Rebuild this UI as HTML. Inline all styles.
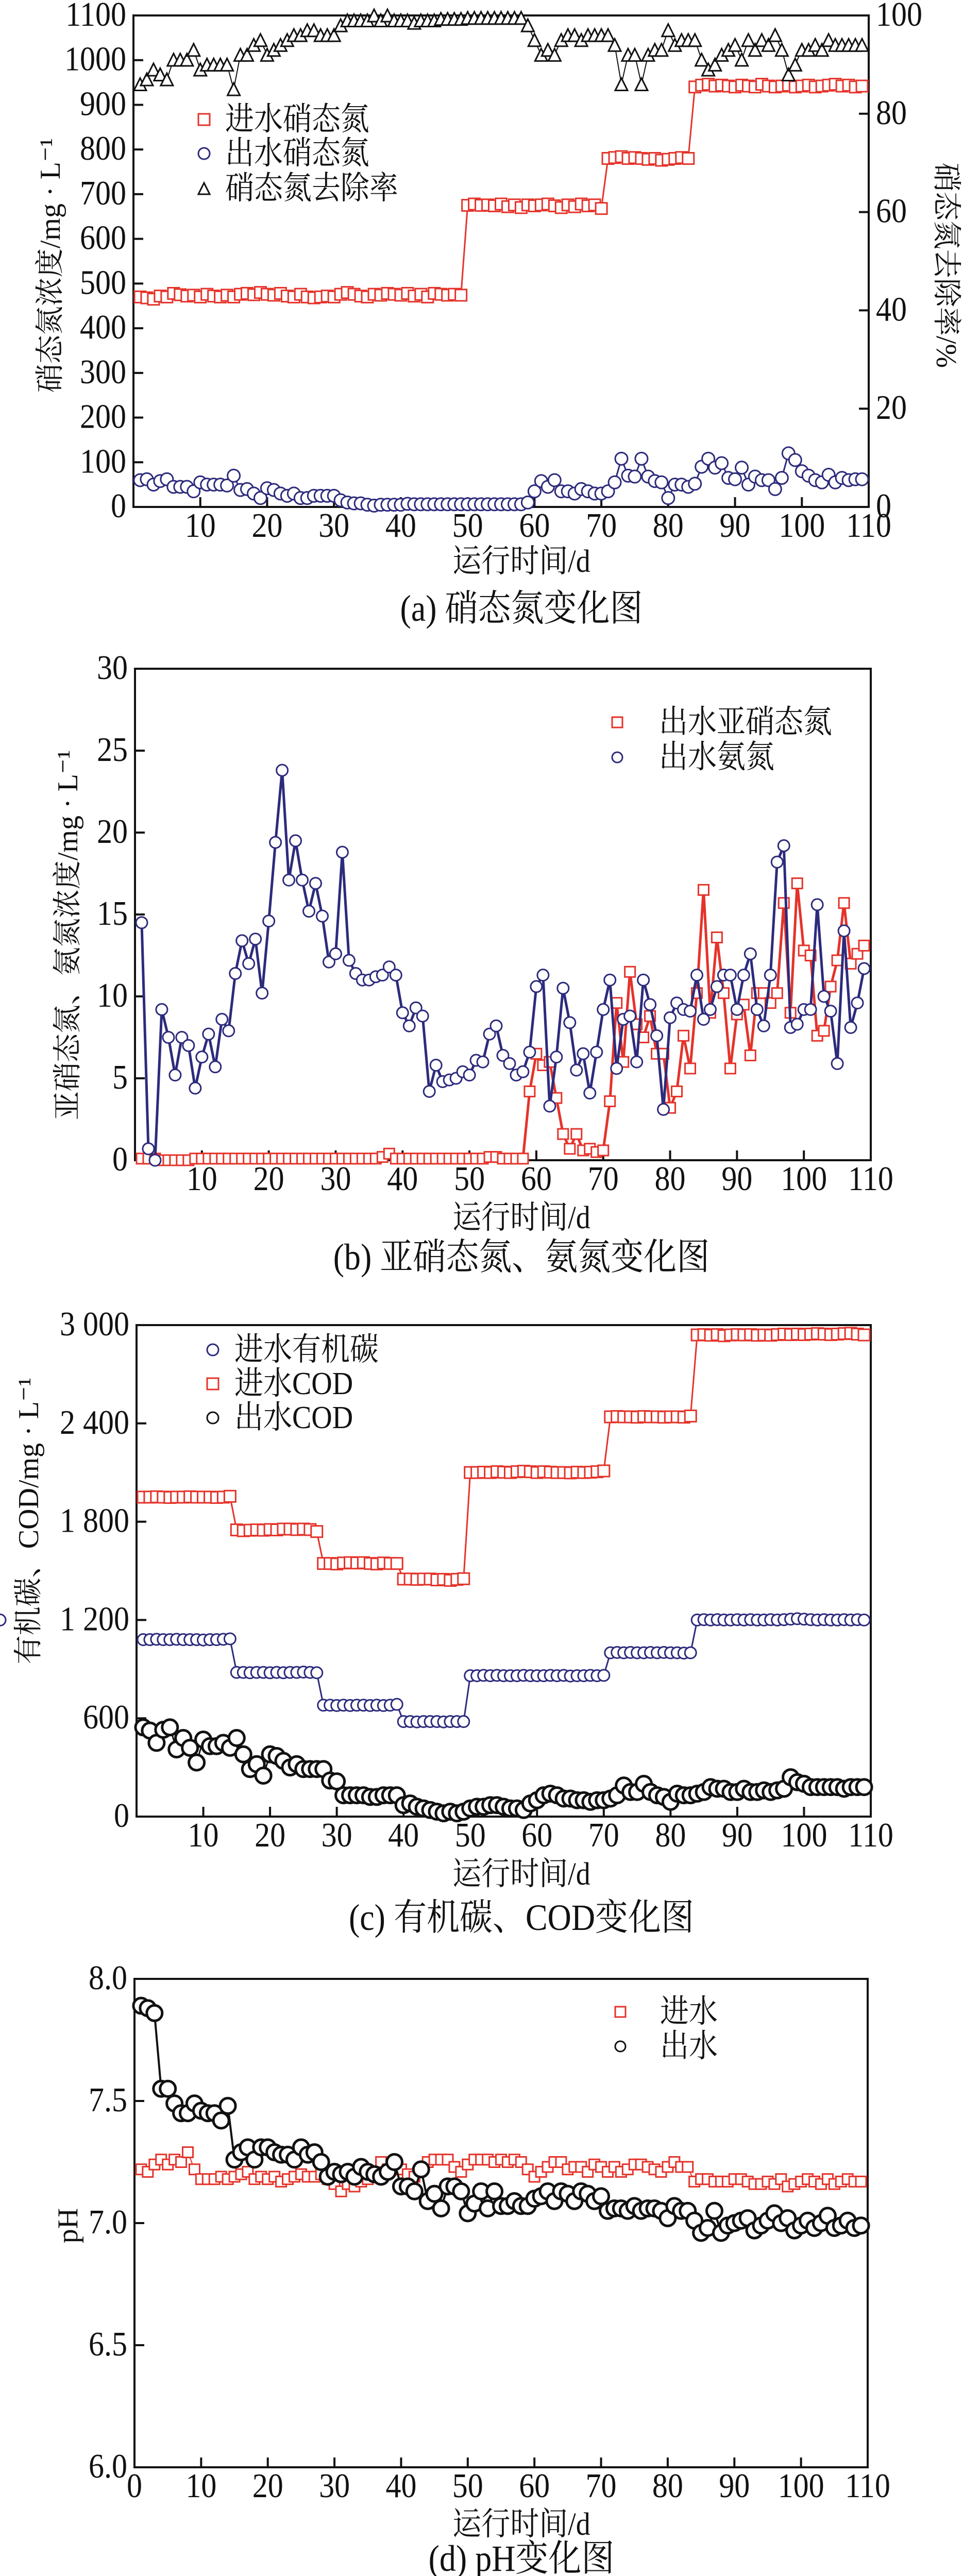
<!DOCTYPE html>
<html><head><meta charset="utf-8">
<style>
html,body{margin:0;padding:0;background:#fff;overflow:hidden;width:1869px;height:5021px;}
svg{display:block;}
.tk{font-family:"Liberation Serif","Noto Serif CJK SC",serif;font-size:60px;fill:#111;}
.cj{font-family:"Liberation Serif","Noto Serif CJK SC",serif;font-size:56px;fill:#111;}
.cap{font-family:"Liberation Serif","Noto Serif CJK SC",serif;font-size:64px;fill:#111;}
</style></head>
<body>
<svg id="chart" xmlns="http://www.w3.org/2000/svg" width="1869" height="5021" viewBox="0 0 1869 5021">
<rect width="1869" height="5021" fill="#fff"/>
</svg>
<script>
const NS="http://www.w3.org/2000/svg";
const svg=document.getElementById('chart');
const RED="#e5332a", BLUE="#2d2b7c", BLK="#111";

// ---- data (day index = position + 1) ----
const days=[];for(let i=1;i<=109;i++)days.push(i);
const xTicks=[0,10,20,30,40,50,60,70,80,90,100,110];

// panel a
const aInNitrate=[470,468,465,472,470,478,475,472,474,470,476,472,470,474,470,476,478,475,480,476,474,478,472,470,476,470,468,470,472,470,476,480,476,472,470,476,474,478,476,474,478,472,476,470,478,476,474,476,474,675,678,675,676,674,678,672,676,670,676,674,676,678,674,670,676,672,678,674,676,668,780,782,784,780,782,780,778,780,776,778,780,782,780,940,944,946,942,944,942,940,944,942,940,946,942,940,942,944,940,942,944,940,942,944,946,942,944,940,942];
const aOutNitrate=[60,62,50,58,62,45,45,45,35,55,50,50,50,48,70,38,40,30,20,42,38,30,25,30,20,20,25,25,25,25,15,10,8,8,5,3,5,5,5,5,7,6,6,6,6,6,6,6,6,6,6,6,6,6,6,6,6,6,10,35,58,45,60,35,35,30,40,35,30,30,35,55,108,70,68,108,68,58,55,20,50,50,45,52,90,108,88,98,65,62,88,50,68,60,60,40,65,120,105,80,70,60,55,72,55,65,60,62,62];
const aRemoval=[86,87,89,88,87,91,91,91,93,89,90,90,90,90,85,92,92,94,95,92,93,94,95,96,96,97,97,96,96,96,98,99,99,99,99,100,99,100,99,99,99,98.5,99,99,99,99.3,99.3,99.3,99.3,99.5,99.5,99.5,99.5,99.5,99.5,99.5,99.5,99.5,98,95,92,93,92,95,96,96,95,96,96,96,96,94,86,92,92,86,92,93,93,97,94,95,95,95,91,89,90,92,93,94,91,95,93,95,94,96,93,88,90,93,93,94,93,95,94,94,94,94,94];
const aYTicks=[0,100,200,300,400,500,600,700,800,900,1000,1100];
const aRTicks=[0,20,40,60,80,100];

// panel b
const bAmmonia=[14.5,0.7,0,9.2,7.5,5.2,7.5,7.0,4.4,6.3,7.7,5.7,8.6,7.9,11.4,13.4,12.0,13.5,10.2,14.6,19.4,23.8,17.1,19.5,17.1,15.2,16.9,14.9,12.1,12.6,18.8,12.2,11.4,11.0,11.0,11.2,11.3,11.8,11.3,9.0,8.2,9.3,8.8,4.2,5.8,4.8,4.9,5.0,5.4,5.2,6.1,6.0,7.7,8.2,6.4,5.9,5.2,5.4,6.6,10.6,11.3,3.3,6.3,10.5,8.4,5.5,6.5,4.1,6.6,9.2,11.0,5.6,8.6,8.8,6.0,11.0,9.5,7.6,3.1,8.7,9.6,9.2,9.1,11.3,8.6,9.2,10.6,11.3,11.3,9.2,11.3,12.6,9.2,8.2,11.3,18.2,19.2,8.1,8.3,9.2,9.2,15.6,10.0,9.1,5.9,14.0,8.1,9.6,11.7];
const bNitrite=[0.1,0.1,0.1,0,0,0,0,0,0.1,0.1,0.1,0.1,0.1,0.1,0.1,0.1,0.1,0.1,0.1,0.1,0.1,0.1,0.1,0.1,0.1,0.1,0.1,0.1,0.1,0.1,0.1,0.1,0.1,0.1,0.1,0.1,0.2,0.4,0.1,0.1,0.1,0.1,0.1,0.1,0.1,0.1,0.1,0.1,0.1,0.1,0.1,0.1,0.2,0.2,0.1,0.1,0.1,0.1,4.2,6.5,5.8,6.0,3.8,1.6,0.7,1.6,0.6,0.7,0.5,0.6,3.6,9.6,6.0,11.5,8.3,7.5,8.8,6.5,6.5,3.2,4.2,7.6,5.6,10.2,16.5,9.0,13.6,10.2,5.6,8.9,9.5,6.4,10.2,10.2,9.6,10.2,15.7,9.0,16.9,12.8,12.5,7.6,7.9,10.6,12.2,15.7,12.0,12.6,13.1];
const bYTicks=[0,5,10,15,20,25,30];

// panel c
const cInCOD=[1950,1950,1952,1950,1948,1950,1950,1952,1950,1950,1950,1948,1950,1955,1750,1745,1748,1750,1748,1752,1750,1755,1755,1752,1755,1752,1740,1545,1545,1542,1548,1550,1548,1550,1545,1542,1548,1545,1545,1450,1450,1448,1450,1450,1445,1448,1442,1448,1452,2100,2100,2102,2100,2105,2102,2100,2105,2108,2105,2100,2105,2102,2100,2100,2098,2102,2100,2102,2105,2110,2440,2442,2440,2440,2438,2442,2440,2440,2438,2440,2440,2438,2445,2940,2942,2938,2942,2935,2940,2942,2940,2942,2938,2940,2938,2942,2945,2942,2945,2942,2945,2948,2945,2942,2945,2948,2950,2945,2940];
const cInTOC=[1080,1080,1082,1080,1080,1082,1080,1080,1080,1078,1080,1080,1082,1085,880,880,878,880,880,878,880,878,880,880,882,880,878,680,680,678,680,678,680,680,678,680,678,680,685,580,580,578,580,580,580,578,580,580,580,860,860,862,860,862,860,860,860,862,860,860,860,862,860,862,858,860,860,862,860,862,1000,1002,1000,1002,1000,1000,1002,1000,1002,1000,1000,998,1000,1200,1202,1200,1202,1200,1200,1202,1200,1202,1200,1200,1202,1200,1202,1205,1208,1205,1202,1200,1202,1200,1200,1202,1200,1202,1200,1200];
const cOutCOD=[545,525,450,530,545,410,480,420,330,470,430,430,450,420,480,380,290,320,250,380,370,340,300,320,290,290,290,290,220,215,130,130,130,130,120,120,130,130,130,70,80,60,50,40,30,20,30,20,30,50,60,60,70,70,60,50,50,40,80,100,130,140,130,110,110,100,100,90,100,100,110,130,190,150,150,200,150,130,120,90,140,130,130,140,150,180,170,170,150,150,170,150,150,160,150,160,170,240,210,200,180,180,180,180,180,170,180,180,180];
const cYTicks=[0,600,1200,1800,2400,3000];
const cYLabels=["0","600","1 200","1 800","2 400","3 000"];

// panel d
const dInPH=[7.22,7.21,7.24,7.26,7.24,7.26,7.25,7.29,7.22,7.18,7.18,7.18,7.19,7.18,7.19,7.20,7.21,7.18,7.19,7.18,7.19,7.17,7.18,7.19,7.20,7.19,7.19,7.20,7.18,7.16,7.13,7.16,7.15,7.17,7.18,7.20,7.25,7.22,7.24,7.22,7.20,7.19,7.22,7.25,7.26,7.26,7.26,7.23,7.21,7.24,7.26,7.26,7.26,7.25,7.26,7.25,7.26,7.25,7.22,7.19,7.21,7.23,7.25,7.25,7.22,7.23,7.23,7.21,7.24,7.23,7.21,7.23,7.21,7.22,7.24,7.24,7.23,7.22,7.21,7.23,7.25,7.23,7.23,7.17,7.18,7.18,7.17,7.17,7.17,7.18,7.18,7.17,7.16,7.16,7.17,7.16,7.18,7.15,7.16,7.17,7.18,7.17,7.16,7.18,7.16,7.17,7.18,7.17,7.17];
const dOutPH=[7.89,7.88,7.86,7.55,7.55,7.49,7.45,7.45,7.49,7.46,7.45,7.45,7.42,7.48,7.26,7.29,7.31,7.26,7.31,7.31,7.29,7.28,7.28,7.26,7.31,7.28,7.29,7.25,7.19,7.21,7.20,7.21,7.19,7.23,7.21,7.20,7.19,7.21,7.25,7.15,7.15,7.13,7.22,7.09,7.12,7.06,7.15,7.15,7.13,7.04,7.08,7.13,7.06,7.13,7.07,7.07,7.09,7.07,7.07,7.10,7.11,7.13,7.09,7.13,7.12,7.09,7.13,7.12,7.09,7.11,7.05,7.06,7.06,7.05,7.07,7.05,7.06,7.06,7.05,7.02,7.07,7.05,7.05,7.01,6.96,6.98,7.05,6.96,6.99,7.00,7.01,7.02,6.97,6.99,7.01,7.04,7.00,7.02,6.97,6.99,7.01,6.98,7.00,7.03,6.98,6.99,7.01,6.98,6.99];
const dYTicks=[6.0,6.5,7.0,7.5,8.0];
const dYLabels=["6.0","6.5","7.0","7.5","8.0"];

// ---- helpers ----
function el(tag,attrs,parent){const e=document.createElementNS(NS,tag);for(const k in attrs)e.setAttribute(k,attrs[k]);(parent||svg).appendChild(e);return e;}
function txt(str,x,y,cls,anchor,parent,rot){const t=el('text',{x:x,y:y,class:cls,'text-anchor':anchor||'middle'},parent);
 if(rot)t.setAttribute('transform','rotate('+rot+' '+x+' '+y+')');
 else t.setAttribute('transform','translate(0,'+y+') scale(1,1.12) translate(0,'+(-y)+')');
 t.textContent=str;return t;}
function panel(p){const g=el('g',{});
 
 
 p.g=g;p.sx=v=>p.left+(v-0)/(110-0)*(p.right-p.left);
 p.sy=v=>p.bottom-(v-p.ymin)/(p.ymax-p.ymin)*(p.bottom-p.top);
 const box=el('rect',{x:p.left,y:p.top,width:p.right-p.left,height:p.bottom-p.top,fill:'none',stroke:BLK,'stroke-width':4},g);
 
 
 return p;}
function xAxis(p,showZero,title,caption){
 const g=el('g',{},p.g);
 
 
 xTicks.forEach(v=>{const x=p.sx(v);
  if(v>0&&v<110)el('line',{x1:x,x2:x,y1:p.bottom,y2:p.bottom-19,stroke:BLK,'stroke-width':4},g);
  if(v>0||showZero){const t=txt(String(v),x,p.bottom+58,'tk','middle',g);
   
   }
 });
 const t=txt(title,1012,p.titleY,'cj','middle',p.g);
 
 
 const c=txt(caption,1012,p.capY,'cap','middle',p.g);
 
 
}
function yAxis(p,ticks,labels,title,tx,ty){
 const g=el('g',{},p.g);
 
 
 ticks.forEach((v,i)=>{const y=p.sy(v);
  if(v>p.ymin&&v<p.ymax)el('line',{x1:p.left,x2:p.left+19,y1:y,y2:y,stroke:BLK,'stroke-width':4},g);
  const t=txt(labels[i],p.left-14,y+20,'tk','end',g);
  
  
 });
 const t=txt(title,tx,ty,'cj','middle',p.g,-90);
 
 
}
function marker(shape,x,y,color,sz,sw,g){
 let m;
 if(shape==='sq')m=el('rect',{x:x-sz/2,y:y-sz/2,width:sz,height:sz,fill:'#fff',stroke:color,'stroke-width':sw},g);
 else if(shape==='ci')m=el('ellipse',{cx:x,cy:y,rx:sz/2,ry:sz/2,fill:'#fff',stroke:color,'stroke-width':sw},g);
 else m=el('polygon',{points:(x)+','+(y-sz/2)+' '+(x-sz/2)+','+(y+sz/2)+' '+(x+sz/2)+','+(y+sz/2),fill:'#fff',stroke:color,'stroke-width':sw},g);
 return m;
}
function series(p,vals,ys,shape,color,lineColor,lw,sz,sw,name){
 const g=el('g',{},p.g);
 
 
 const pts=vals.map((v,i)=>p.sx(days[i])+','+ys(v)).join(' ');
 el('polyline',{points:pts,fill:'none',stroke:lineColor,'stroke-width':lw,'stroke-linejoin':'round'},g);
 vals.forEach((v,i)=>{const m=marker(shape,p.sx(days[i]),ys(v),color,sz,sw,g);
  
  });
}
function legend(p,items,mx,tx,rows,sz,sw){
 const g=el('g',{},p.g);
 
 
 items.forEach((it,i)=>{
  const m=marker(it[0],mx,rows[i],it[1],sz,sw,g);
  
  
  const t=txt(it[2],tx,rows[i]+20,'cj','start',g);
  
  
 });
}

// ---- panel a ----
const A=panel({name:'panel-a-nitrate',left:259,right:1686,top:30,bottom:984,ymin:0,ymax:1100,titleY:1110,capY:1205});
yAxis(A,aYTicks,aYTicks.map(String),'硝态氮浓度/mg · L⁻¹',116,515);
xAxis(A,false,'运行时间/d','(a) 硝态氮变化图');
(function(){const g=el('g',{},A.g);
 
 
 const ry=v=>A.bottom-v/100*(A.bottom-A.top);
 aRTicks.forEach(v=>{const y=ry(v);
  if(v>0&&v<100)el('line',{x1:A.right,x2:A.right-19,y1:y,y2:y,stroke:BLK,'stroke-width':4},g);
  const t=txt(String(v),A.right+14,y+20,'tk','start',g);
  
  });
 const t=txt('硝态氮去除率/%',1818,515,'cj','middle',g,90);
 
 
 A.ry=ry;})();
series(A,aInNitrate,A.sy,'sq',RED,RED,3,22,3,'influent-nitrate');
series(A,aOutNitrate,A.sy,'ci',BLUE,BLUE,3,24,3,'effluent-nitrate');
series(A,aRemoval,A.ry,'tr',BLK,BLK,2,24,3,'nitrate-removal-rate');
legend(A,[['sq',RED,'进水硝态氮'],['ci',BLUE,'出水硝态氮'],['tr',BLK,'硝态氮去除率']],396,437,[232,298,366],22,3);

// ---- panel b ----
const B=panel({name:'panel-b-nitrite-ammonia',left:262,right:1690,top:1298,bottom:2252,ymin:0,ymax:30,titleY:2384,capY:2464});
yAxis(B,bYTicks,bYTicks.map(String),'亚硝态氮、氨氮浓度/mg · L⁻¹',150,1815);
xAxis(B,false,'运行时间/d','(b) 亚硝态氮、氨氮变化图');
series(B,bNitrite,B.sy,'sq',RED,RED,5,20,3,'effluent-nitrite');
series(B,bAmmonia,B.sy,'ci',BLUE,BLUE,5,22,3,'effluent-ammonia');
legend(B,[['sq',RED,'出水亚硝态氮'],['ci',BLUE,'出水氨氮']],1198,1279,[1402,1470],20,3);

// ---- panel c ----
const C=panel({name:'panel-c-cod',left:265,right:1690,top:2572,bottom:3526,ymin:0,ymax:3000,titleY:3658,capY:3746});
yAxis(C,cYTicks,cYLabels,'有机碳、COD/mg · L⁻¹',74,2952);
xAxis(C,false,'运行时间/d','(c) 有机碳、COD变化图');
series(C,cInCOD,C.sy,'sq',RED,RED,3,22,3,'influent-cod');
series(C,cInTOC,C.sy,'ci',BLUE,BLUE,3,22,3,'influent-organic-carbon');
series(C,cOutCOD,C.sy,'ci',BLK,BLK,3,30,5,'effluent-cod');
legend(C,[['ci',BLUE,'进水有机碳'],['sq',RED,'进水COD'],['ci',BLK,'出水COD']],413,455,[2620,2686,2752],22,3);

// ---- panel d ----
const D=panel({name:'panel-d-ph',left:261,right:1684,top:3841,bottom:4789,ymin:6,ymax:8,titleY:4920,capY:4990});
yAxis(D,dYTicks,dYLabels,'pH',150,4320);
xAxis(D,true,'运行时间/d','(d) pH变化图');
series(D,dInPH,D.sy,'sq',RED,RED,2,20,3,'influent-ph');
series(D,dOutPH,D.sy,'ci',BLK,BLK,4,30,5,'effluent-ph');
legend(D,[['sq',RED,'进水'],['ci',BLK,'出水']],1204,1281,[3905,3972],20,3);
</script>
</body></html>
